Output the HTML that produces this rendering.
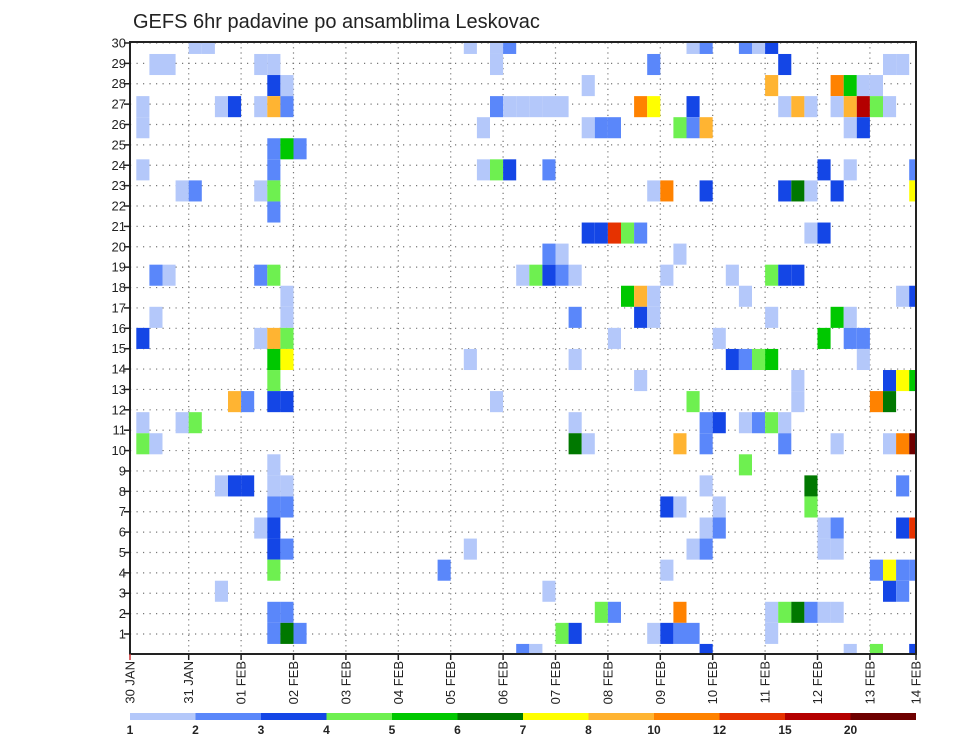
<!DOCTYPE html>
<html><head><meta charset="utf-8"><style>
html,body{margin:0;padding:0;background:#fff;}
svg{display:block;font-family:"Liberation Sans",sans-serif;}
</style></head><body>
<svg id="chart" width="960" height="742" viewBox="0 0 960 742" xmlns="http://www.w3.org/2000/svg">
<text x="133" y="28" font-size="20" fill="#222">GEFS 6hr padavine po ansamblima Leskovac</text>
<g id="grid"></g>
<g id="cells"></g>
<g id="axes"></g>
<g id="legend"></g>
</svg>
<script>
// ---- data ----
const dayLabels = ["30 JAN","31 JAN","01 FEB","02 FEB","03 FEB","04 FEB","05 FEB","06 FEB","07 FEB","08 FEB","09 FEB","10 FEB","11 FEB","12 FEB","13 FEB","14 FEB"];
const memberLabels = [1,2,3,4,5,6,7,8,9,10,11,12,13,14,15,16,17,18,19,20,21,22,23,24,25,26,27,28,29,30];
const legendLabels = ["1","2","3","4","5","6","7","8","10","12","15","20"];
const legendColors = ["#b4c8fa","#5a87fa","#1446e6","#6ef050","#00c800","#007800","#ffff00","#ffb432","#ff8200","#e63200","#b40000","#6e0000"];
// rows of the grid (top to bottom), entries "timeStep:colourClass" (class 1..12)
const bands = [
"4:1,5:1,25:1,27:1,28:2,42:1,43:2,46:2,47:1,48:3",
"1:1,2:1,9:1,10:1,27:1,39:2,49:3,57:1,58:1",
"10:3,11:1,34:1,48:8,53:9,54:5,55:1,56:1",
"0:1,6:1,7:3,9:1,10:8,11:2,27:2,28:1,29:1,30:1,31:1,32:1,38:9,39:7,42:3,49:1,50:8,51:1,53:1,54:8,55:11,56:4,57:1",
"0:1,26:1,34:1,35:2,36:2,41:4,42:2,43:8,54:1,55:3",
"10:2,11:5,12:2",
"0:1,10:2,26:1,27:4,28:3,31:2,52:3,54:1,59:2",
"3:1,4:2,9:1,10:4,39:1,40:9,43:3,49:3,50:6,51:1,53:3,59:7",
"10:2",
"34:3,35:3,36:10,37:4,38:2,51:1,52:3",
"31:2,32:1,41:1",
"1:2,2:1,9:2,10:4,29:1,30:4,31:3,32:2,33:1,40:1,45:1,48:4,49:3,50:3",
"11:1,37:5,38:8,39:1,46:1,58:1,59:3",
"1:1,11:1,33:2,38:3,39:1,48:1,53:5,54:1",
"0:3,9:1,10:8,11:4,36:1,44:1,52:5,54:2,55:2",
"10:5,11:7,25:1,33:1,45:3,46:2,47:4,48:5,55:1",
"10:4,38:1,50:1,57:3,58:7,59:5",
"7:8,8:2,10:3,11:3,27:1,42:4,50:1,56:9,57:6",
"0:1,3:1,4:4,33:1,43:2,44:3,46:1,47:2,48:4,49:1",
"0:4,1:1,33:6,34:1,41:8,43:2,49:2,53:1,57:1,58:9,59:12",
"10:1,46:4",
"6:1,7:3,8:3,10:1,11:1,43:1,51:6,58:2",
"10:2,11:2,40:3,41:1,44:1,51:4",
"9:1,10:3,43:1,44:2,52:1,53:2,58:3,59:10",
"10:3,11:2,25:1,42:1,43:2,52:1,53:1",
"10:4,23:2,40:1,56:2,57:7,58:2,59:2",
"6:1,31:1,57:3,58:2",
"10:2,11:2,35:4,36:2,41:9,48:1,49:4,50:6,51:2,52:1,53:1",
"10:2,11:6,12:2,32:4,33:3,39:1,40:3,41:2,42:2,48:1",
"29:2,30:1,43:3,54:1,56:4,59:3"
];
// ---- geometry ----
const L=130,R=916,T=42,B=654;
const stepW=13.1, x0=136.3;
const xScale = s => x0 + s*stepW;
const dayX = d => d===0 ? L : (d===15 ? R : x0 + d*4*stepW);
const bandH=21.07, y0=32.9;
const yBand = b => y0 + b*bandH;
const yTick = m => 634 - (m-1)*20.38;
const NS="http://www.w3.org/2000/svg";
function mk(tag, attrs, parent){const e=document.createElementNS(NS,tag);for(const k in attrs)e.setAttribute(k,attrs[k]);parent.appendChild(e);return e;}
const grid=document.getElementById('grid'), cells=document.getElementById('cells'), axes=document.getElementById('axes'), legend=document.getElementById('legend');
// grid
memberLabels.forEach(m=>{
  const y=yTick(m);
  const ln=mk('line',{x1:L,x2:R,y1:y,y2:y,stroke:'#777','stroke-width':1.2,'stroke-dasharray':'1.2 5.3'},grid);
  
  
});
for(let d=1; d<15; d++){
  const x=dayX(d);
  const ln=mk('line',{x1:x,x2:x,y1:T,y2:B,stroke:'#777','stroke-width':1.2,'stroke-dasharray':'1.2 4'},grid);
  
  
}
// cells
const clip=mk('clipPath',{id:'plotclip'},document.getElementById('chart'));
mk('rect',{x:L,y:T,width:R-L,height:B-T},clip);
cells.setAttribute('clip-path','url(#plotclip)');
bands.forEach((row,b)=>{
  if(!row) return;
  row.split(',').forEach(p=>{
    const [s,c]=p.split(':').map(Number);
    const r=mk('rect',{x:xScale(s),y:yBand(b),width:stepW,height:bandH,fill:legendColors[c-1]},cells);
    
    
  });
});
// axes frame
const fr=mk('rect',{x:L,y:T,width:R-L,height:B-T,fill:'none',stroke:'#222','stroke-width':2},axes);


memberLabels.forEach(m=>{
  const y=yTick(m);
  mk('line',{x1:L-6,x2:L,y1:y,y2:y,stroke:'#222','stroke-width':1.5},axes);
  const t=mk('text',{x:L-4,y:y+4.5,'text-anchor':'end','font-size':13,fill:'#222'},axes);
  t.textContent=m;
  
  
});
dayLabels.forEach((lab,d)=>{
  const x=dayX(d);
  mk('line',{x1:x,x2:x,y1:B,y2:B+6,stroke:d===0?'#c33':'#222','stroke-width':1.5},axes);
  const t=mk('text',{x:x,y:661,'text-anchor':'end','font-size':13,fill:'#222',transform:`rotate(-90 ${x} 661)`,dy:'4.5'},axes);
  t.textContent=lab;
  
  
});
// legend
const lw=(R-L)/legendColors.length;
legendColors.forEach((c,i)=>{
  const r=mk('rect',{x:L+i*lw,y:713,width:lw,height:7,fill:c},legend);
  
  
  const t=mk('text',{x:L+i*lw,y:734,'text-anchor':'middle','font-size':12,'font-weight':'bold',fill:'#222'},legend);
  t.textContent=legendLabels[i];
  
  
});
</script>
</body></html>
